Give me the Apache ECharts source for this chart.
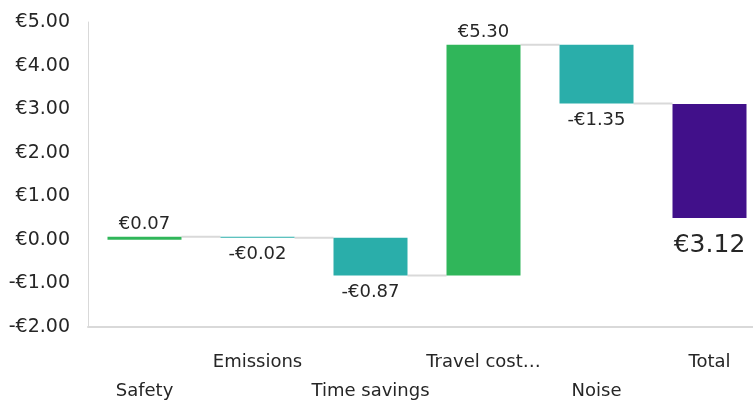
<!DOCTYPE html>
<html>
<head>
<meta charset="utf-8">
<script src="https://cdn.jsdelivr.net/npm/echarts@6/dist/echarts.min.js"></script>
<style>
  html, body { margin: 0; padding: 0; background: #fff; }
  #chart { width: 753px; height: 401px; }
</style>
</head>
<body>
<div id="chart"></div>
<script>
// Waterfall of benefit components (EUR per trip)
const categories = ['Safety', 'Emissions', 'Time savings', 'Travel cost…', 'Noise', 'Total'];
const deltas = [0.07, -0.02, -0.87, 5.30, -1.35];
const totalValue = 3.12;
const totalBase = 0.5;
const yTicks = { min: -2, max: 5, interval: 1 };

const GREEN = '#30b65a';
const TEAL = '#2aaeaa';
const PURPLE = '#41108a';
const FONT = 'DejaVu Sans';
const TEXT = '#262626';
const BAR_W = 74;

const money = v => (v < 0 ? '-€' : '€') + Math.abs(v).toFixed(2);

// running totals
const baseData = [];
const barData = [];
const connectors = [];
let run = 0;
deltas.forEach((d, i) => {
  const start = run;
  const end = run + d;
  run = end;
  baseData.push(Math.min(start, end));
  barData.push({
    value: Math.abs(d),
    delta: d,
    itemStyle: { color: d >= 0 ? GREEN : TEAL },
    label: { position: d >= 0 ? 'top' : 'bottom', distance: d >= 0 ? 3 : 8 }
  });
  connectors.push([i, end]);
});
baseData.push(totalBase);
barData.push({
  value: totalValue - totalBase,
  delta: totalValue,
  itemStyle: { color: PURPLE },
  label: { position: 'bottom', distance: 15, fontSize: 25 }
});

const chart = echarts.init(document.getElementById('chart'), null, { renderer: 'canvas' });
chart.setOption({
  animation: false,
  grid: { left: 88, top: 22, width: 678, bottom: 74, outerBoundsMode: 'none', containLabel: false },
  xAxis: {
    type: 'category',
    data: categories,
    axisLine: { show: true, onZero: false, lineStyle: { color: '#d9d9d9', width: 2 } },
    axisTick: { show: false },
    axisLabel: {
      interval: 0,
      margin: 21,
      color: TEXT,
      fontFamily: FONT,
      fontSize: 18,
      lineHeight: 29,
      formatter: (v, i) => (i % 2 === 0 ? '\n' + v : v)
    }
  },
  yAxis: {
    type: 'value',
    min: yTicks.min,
    max: yTicks.max,
    interval: yTicks.interval,
    splitLine: { show: false },
    axisLine: { show: true, lineStyle: { color: '#d9d9d9', width: 1 } },
    axisTick: { show: false },
    axisLabel: {
      margin: 18,
      color: TEXT,
      fontFamily: FONT,
      fontSize: 19,
      formatter: v => money(v)
    }
  },
  series: [
    {
      type: 'bar',
      stack: 'wf',
      stackStrategy: 'all',
      barWidth: BAR_W,
      itemStyle: { color: 'transparent' },
      data: baseData,
      silent: true
    },
    {
      type: 'bar',
      stack: 'wf',
      stackStrategy: 'all',
      barWidth: BAR_W,
      data: barData,
      label: {
        show: true,
        color: TEXT,
        fontFamily: FONT,
        fontSize: 18,
        formatter: p => money(p.data.delta)
      }
    },
    {
      type: 'custom',
      data: connectors,
      z: 1,
      renderItem: (params, api) => {
        const i = api.value(0);
        const lvl = api.value(1);
        const p1 = api.coord([i, lvl]);
        const p2 = api.coord([i + 1, lvl]);
        return {
          type: 'line',
          shape: { x1: p1[0] + BAR_W / 2, y1: p1[1], x2: p2[0] - BAR_W / 2, y2: p2[1] },
          style: { stroke: '#d9d9d9', lineWidth: 2 }
        };
      }
    }
  ]
});
</script>
</body>
</html>
